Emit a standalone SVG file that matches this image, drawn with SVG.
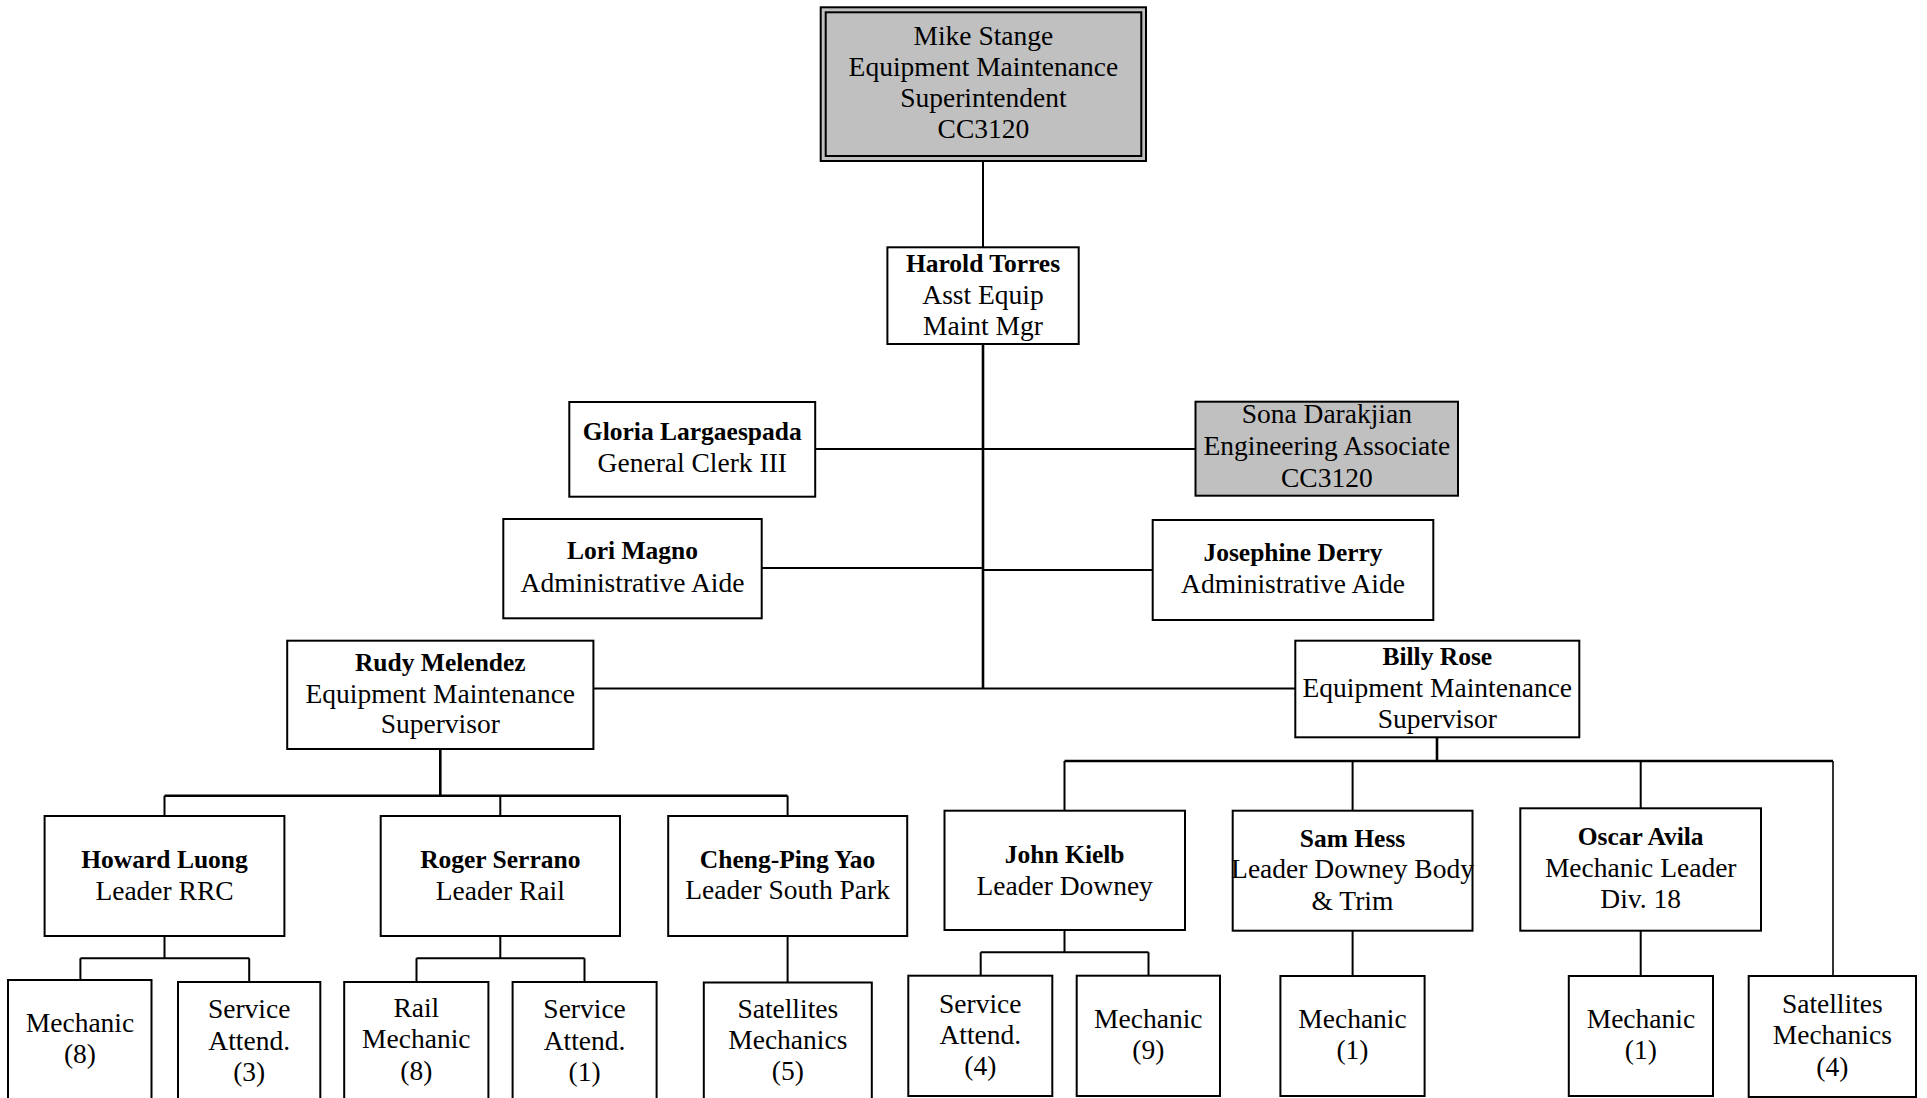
<svg xmlns="http://www.w3.org/2000/svg" width="1927" height="1098" viewBox="0 0 1927 1098">
<style>
.box{fill:#ffffff;stroke:#000;stroke-width:2}
.gray{fill:#c0c0c0;stroke:#000;stroke-width:2}
.t{font-family:"Liberation Serif","Times New Roman",serif;font-size:27.5px;fill:#000;text-anchor:middle}
.b{font-weight:bold;font-size:25.5px}
.ln{fill:none;stroke:#000;stroke-width:2}
.thick{stroke-width:2.6}
</style>
<rect width="1927" height="1098" fill="#ffffff"/>
<g id="connectors">
<path class="ln" d="M983 161V247"/>
<path class="ln thick" d="M983 344V688.5"/>
<path class="ln" d="M815 449H1195.5"/>
<path class="ln" d="M762 568H983"/>
<path class="ln" d="M983 570H1153"/>
<path class="ln" d="M593.4 688.5H1295.3"/>
<path class="ln thick" d="M440.3 749V795.7"/>
<path class="ln thick" d="M164.5 795.7H787.6"/>
<path class="ln" d="M164.5 795.7V816M500.3 795.7V816M787.6 795.7V816"/>
<path class="ln" d="M164.5 936V958.3M80.4 958.3H249.2M80.4 958.3V982M249.2 958.3V982"/>
<path class="ln" d="M500.3 936V958.3M416.5 958.3H584.5M416.5 958.3V982M584.5 958.3V982"/>
<path class="ln" d="M787.6 936V982"/>
<path class="ln thick" d="M1437 737.3V761"/>
<path class="ln thick" d="M1064.5 761H1833"/>
<path class="ln" d="M1064.5 761V810.7M1352.6 761V810.7M1640.7 761V808.3"/>
<path class="ln" style="stroke-width:1.6" d="M1833 761V976"/>
<path class="ln" d="M1064.5 930V952.3M980.7 952.3H1148.5M980.7 952.3V975.7M1148.5 952.3V975.7"/>
<path class="ln" d="M1352.6 930.7V976"/>
<path class="ln" d="M1640.7 930.7V976"/>
</g>
<g id="mike">
<rect class="gray" x="820.7" y="7.3" width="325.3" height="153.7"/>
<rect x="825.7" y="12.3" width="315.6" height="143.7" fill="none" stroke="#000" stroke-width="2"/>
<text class="t" x="983.4" y="45">Mike Stange</text>
<text class="t" x="983.4" y="76">Equipment Maintenance</text>
<text class="t" x="983.4" y="107">Superintendent</text>
<text class="t" x="983.4" y="138">CC3120</text>
</g>
<g id="harold">
<rect class="box" x="887.4" y="247.3" width="191.3" height="96.7"/>
<text class="t b" x="983" y="271.7">Harold Torres</text>
<text class="t" x="983" y="303.5">Asst Equip</text>
<text class="t" x="983" y="335">Maint Mgr</text>
</g>
<g id="gloria">
<rect class="box" x="569.3" y="402" width="245.9" height="94.7"/>
<text class="t b" x="692.3" y="440">Gloria Largaespada</text>
<text class="t" x="692.3" y="471.7">General Clerk III</text>
</g>
<g id="sona">
<rect class="gray" x="1195.5" y="401.7" width="262.5" height="94"/>
<text class="t" x="1326.8" y="423">Sona Darakjian</text>
<text class="t" x="1326.8" y="455">Engineering Associate</text>
<text class="t" x="1326.8" y="487">CC3120</text>
</g>
<g id="lori">
<rect class="box" x="503.3" y="519" width="258.4" height="99.3"/>
<text class="t b" x="632.5" y="559.3">Lori Magno</text>
<text class="t" x="632.5" y="592.3">Administrative Aide</text>
</g>
<g id="josephine">
<rect class="box" x="1152.7" y="520" width="280.6" height="100"/>
<text class="t b" x="1293" y="561">Josephine Derry</text>
<text class="t" x="1293" y="593.3">Administrative Aide</text>
</g>
<g id="rudy">
<rect class="box" x="287.2" y="640.7" width="306.2" height="108.3"/>
<text class="t b" x="440.3" y="670.7">Rudy Melendez</text>
<text class="t" x="440.3" y="702.7">Equipment Maintenance</text>
<text class="t" x="440.3" y="733.3">Supervisor</text>
</g>
<g id="billy">
<rect class="box" x="1295.3" y="640.7" width="284" height="96.6"/>
<text class="t b" x="1437.3" y="665">Billy Rose</text>
<text class="t" x="1437.3" y="696.7">Equipment Maintenance</text>
<text class="t" x="1437.3" y="728.3">Supervisor</text>
</g>
<g id="howard">
<rect class="box" x="44.6" y="816" width="239.8" height="120"/>
<text class="t b" x="164.5" y="868.3">Howard Luong</text>
<text class="t" x="164.5" y="900">Leader RRC</text>
</g>
<g id="roger">
<rect class="box" x="380.7" y="816" width="239.3" height="120"/>
<text class="t b" x="500.3" y="868.3">Roger Serrano</text>
<text class="t" x="500.3" y="900">Leader Rail</text>
</g>
<g id="cheng">
<rect class="box" x="668.2" y="816" width="239" height="120"/>
<text class="t b" x="787.6" y="868">Cheng-Ping Yao</text>
<text class="t" x="787.6" y="899">Leader South Park</text>
</g>
<g id="john">
<rect class="box" x="944.5" y="810.7" width="240.5" height="119.3"/>
<text class="t b" x="1064.7" y="862.7">John Kielb</text>
<text class="t" x="1064.7" y="895">Leader Downey</text>
</g>
<g id="sam">
<rect class="box" x="1232.7" y="810.7" width="239.8" height="120"/>
<text class="t b" x="1352.5" y="846.7">Sam Hess</text>
<text class="t" x="1352.5" y="878.3">Leader Downey Body</text>
<text class="t" x="1352.5" y="910">&amp; Trim</text>
</g>
<g id="oscar">
<rect class="box" x="1520.3" y="808.3" width="240.7" height="122.4"/>
<text class="t b" x="1640.7" y="845">Oscar Avila</text>
<text class="t" x="1640.7" y="876.7">Mechanic Leader</text>
<text class="t" x="1640.7" y="908.3">Div. 18</text>
</g>
<g id="mech8">
<rect class="box" x="8" y="980" width="143.5" height="125"/>
<text class="t" x="80" y="1031.7">Mechanic</text>
<text class="t" x="80" y="1063">(8)</text>
</g>
<g id="serv3">
<rect class="box" x="178" y="982" width="142.3" height="125"/>
<text class="t" x="249.2" y="1018.3">Service</text>
<text class="t" x="249.2" y="1050">Attend.</text>
<text class="t" x="249.2" y="1081">(3)</text>
</g>
<g id="railmech">
<rect class="box" x="344.2" y="982" width="144.2" height="125"/>
<text class="t" x="416.3" y="1016.7">Rail</text>
<text class="t" x="416.3" y="1048.3">Mechanic</text>
<text class="t" x="416.3" y="1080">(8)</text>
</g>
<g id="serv1">
<rect class="box" x="512.6" y="982" width="144" height="125"/>
<text class="t" x="584.6" y="1018.3">Service</text>
<text class="t" x="584.6" y="1050">Attend.</text>
<text class="t" x="584.6" y="1081">(1)</text>
</g>
<g id="sat5">
<rect class="box" x="703.8" y="982.5" width="168" height="125"/>
<text class="t" x="787.8" y="1018">Satellites</text>
<text class="t" x="787.8" y="1049.3">Mechanics</text>
<text class="t" x="787.8" y="1080">(5)</text>
</g>
<g id="serv4">
<rect class="box" x="908.3" y="975.7" width="144" height="120.3"/>
<text class="t" x="980.3" y="1012.7">Service</text>
<text class="t" x="980.3" y="1044.3">Attend.</text>
<text class="t" x="980.3" y="1075">(4)</text>
</g>
<g id="mech9">
<rect class="box" x="1076.7" y="975.7" width="143.3" height="120.3"/>
<text class="t" x="1148.3" y="1028.3">Mechanic</text>
<text class="t" x="1148.3" y="1059.3">(9)</text>
</g>
<g id="mech1a">
<rect class="box" x="1280.4" y="976" width="144.2" height="120"/>
<text class="t" x="1352.5" y="1028.3">Mechanic</text>
<text class="t" x="1352.5" y="1059">(1)</text>
</g>
<g id="mech1b">
<rect class="box" x="1568.8" y="976" width="144.2" height="120"/>
<text class="t" x="1640.9" y="1028.3">Mechanic</text>
<text class="t" x="1640.9" y="1059">(1)</text>
</g>
<g id="sat4">
<rect class="box" x="1748.7" y="976" width="167.3" height="121"/>
<text class="t" x="1832.3" y="1012.7">Satellites</text>
<text class="t" x="1832.3" y="1044">Mechanics</text>
<text class="t" x="1832.3" y="1076">(4)</text>
</g>
</svg>
